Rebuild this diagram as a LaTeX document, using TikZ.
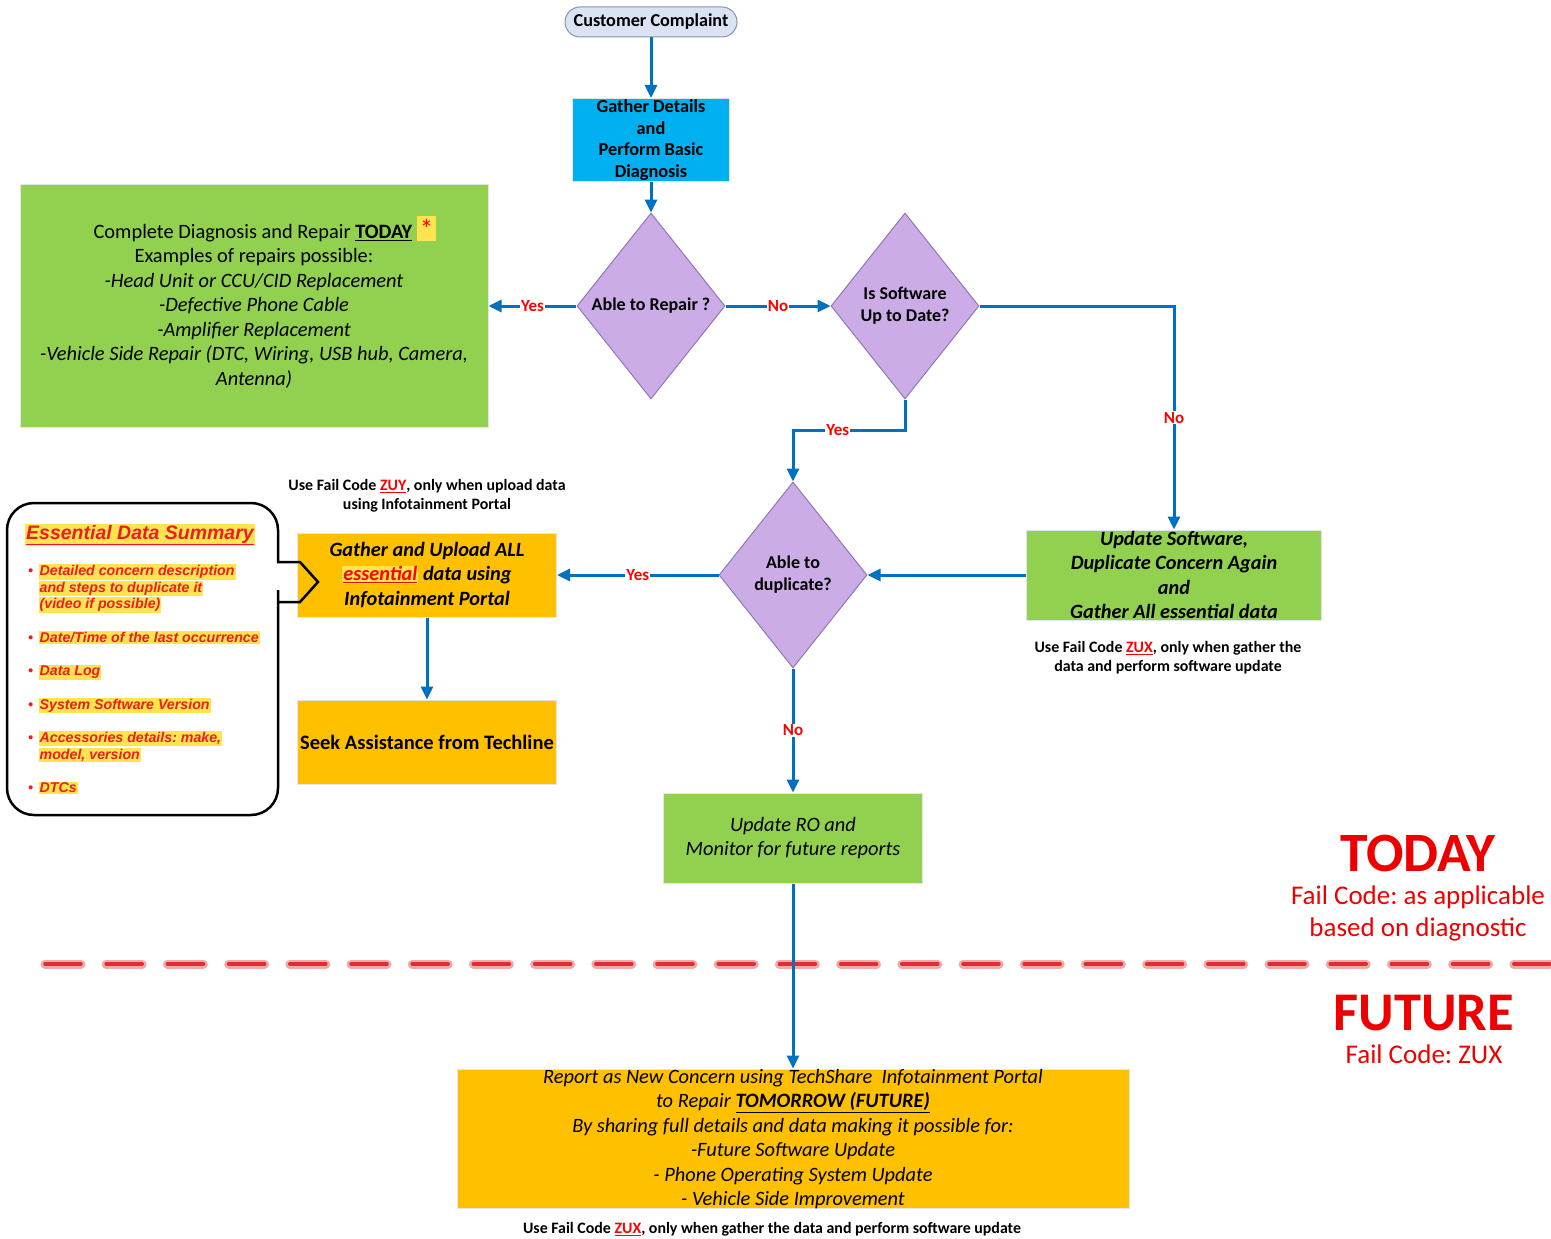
\documentclass[tikz,border=0pt]{standalone}
\usepackage{fontspec}
\setmainfont{Carlito}
\newfontfamily\summaryfont{Liberation Sans}
\usetikzlibrary{shapes.geometric,arrows.meta}
\frenchspacing

\definecolor{arrowblue}{RGB}{0,112,192}
\definecolor{labelred}{RGB}{255,0,0}
\definecolor{startfill}{RGB}{218,227,243}
\definecolor{startedge}{RGB}{132,151,176}
\definecolor{boxblue}{RGB}{0,176,240}
\definecolor{boxgreen}{RGB}{146,208,80}
\definecolor{boxorange}{RGB}{255,192,0}
\definecolor{diamondfill}{RGB}{204,172,230}
\definecolor{diamondedge}{RGB}{140,120,180}
\definecolor{hlyellow}{RGB}{255,228,80}
\definecolor{summaryred}{RGB}{235,30,35}
\definecolor{todayred}{RGB}{238,0,0}
\definecolor{dashred}{RGB}{225,45,50}
\definecolor{dashglow}{RGB}{240,170,170}

\newcommand{\hl}[1]{{\setlength{\fboxsep}{1pt}\colorbox{hlyellow}{#1}}}
\newcommand{\failcode}[1]{\textcolor{labelred}{\underline{#1}}}

\begin{document}
\begin{tikzpicture}[x=1pt,y=-1pt,node distance=100pt,
    flow/.style={draw=arrowblue,line width=3pt,-{Triangle[length=13pt,width=12pt]}},
    answer/.style={fill=white,text=labelred,inner sep=1pt,font=\fontsize{17}{20}\selectfont\bfseries},
    box/.style={draw=black!10,line width=1pt,align=center,inner sep=0pt},
    decision/.style={diamond,draw=diamondedge,fill=diamondfill,line width=1pt,align=center,inner sep=0pt,
      minimum width=148pt,minimum height=186pt,font=\fontsize{18}{22}\selectfont\bfseries},
    note/.style={align=center,font=\fontsize{15.9}{19}\selectfont\bfseries},
    bodyfont/.style={font=\fontsize{20.4}{24.5}\selectfont},
    boldbody/.style={font=\fontsize{20.3}{24.3}\selectfont\bfseries\itshape}]

    \useasboundingbox (0,0) rectangle (1551,1239);

    %% today / future split
    \draw[line width=9pt,dashglow,line cap=round,dash pattern=on 36pt off 25.2pt] (45,964) -- (1570,964);
    \draw[line width=3.5pt,dashred,line cap=round,dash pattern=on 36pt off 25.2pt] (45,964) -- (1570,964);

    \node[box,fill=startfill,draw=startedge,rounded corners=15pt,minimum width=172pt,minimum height=30pt,
      font=\fontsize{18.2}{20}\selectfont\bfseries] (1) at (651,22) {Customer Complaint};
    \node[box,fill=boxblue,below of=1,yshift=-18pt,minimum width=157pt,minimum height=83pt,
      font=\fontsize{18.3}{21.7}\selectfont\bfseries] (2) {Gather Details\\and\\Perform Basic\\Diagnosis};
    \node[decision,below of=2,yshift=-66pt] (3) {Able to Repair ?};
    \node[box,bodyfont,fill=boxgreen,left of=3,xshift=-297pt,minimum width=468pt,minimum height=243pt] (4)
      {\hspace*{22pt}Complete Diagnosis and Repair \textbf{\underline{TODAY}}
       \smash{\colorbox{hlyellow}{\textcolor{labelred}{\fontsize{27}{27}\selectfont *}}}\\
       Examples of repairs possible:\\
       \textit{-Head Unit or CCU/CID Replacement}\\
       \textit{-Defective Phone Cable}\\
       \textit{-Amplifier Replacement}\\
       \textit{-Vehicle Side Repair (DTC, Wiring, USB hub, Camera,}\\
       \textit{Antenna)}};
    \node[decision,right of=3,xshift=154pt] (5) {Is Software\\Up to Date?};
    \node[decision,below of=5,xshift=-112pt,yshift=-169pt] (6) {Able to\\duplicate?};
    \node[box,boldbody,fill=boxgreen,right of=6,xshift=281pt,minimum width=295pt,minimum height=90pt] (7)
      {Update Software,\\Duplicate Concern Again\\and\\Gather All essential data};
    \node[box,boldbody,fill=boxorange,left of=6,xshift=-266pt,minimum width=259pt,minimum height=84pt] (8)
      {Gather and Upload ALL\\\hl{\textcolor{labelred}{\underline{essential}}} data using\\Infotainment Portal};
    \node[box,fill=boxorange,below of=8,yshift=-67pt,minimum width=259pt,minimum height=84pt,
      font=\fontsize{20.5}{24}\selectfont\bfseries] (9) {Seek Assistance from Techline};
    \node[box,bodyfont,fill=boxgreen,below of=6,yshift=-163pt,minimum width=259pt,minimum height=90pt] (10)
      {\textit{Update RO and}\\\textit{Monitor for future reports}};
    \node[box,bodyfont,fill=boxorange,below of=10,yshift=-201pt,minimum width=672pt,minimum height=139pt] (11)
      {\textit{Report as New Concern using TechShare\ \ Infotainment Portal}\\
       \textit{to Repair \textbf{\underline{TOMORROW (FUTURE)}}}\\
       \textit{By sharing full details and data making it possible for:}\\
       \textit{-Future Software Update}\\
       \textit{- Phone Operating System Update}\\
       \textit{- Vehicle Side Improvement}};

    %% fail code notes
    \node[note,above of=8,yshift=-21pt] (12) {Use Fail Code \failcode{ZUY}, only when upload data\\using Infotainment Portal};
    \node[note,below of=7,xshift=-6pt,yshift=17pt] (13) {Use Fail Code \failcode{ZUX}, only when gather the\\data and perform software update};
    \node[note,below of=11,xshift=-21pt,yshift=10pt] (14) {Use Fail Code \failcode{ZUX}, only when gather the data and perform software update};

    %% essential data callout
    \draw[line width=2.5pt] (278,590) -- (278,602) -- (300,602) -- (318,582) -- (300,562) -- (278,562) -- (278,550)
      [rounded corners=27pt] -- (278,503) -- (7,503) -- (7,815) -- (278,815) -- (278,590);
    \node[text=summaryred,font=\summaryfont\fontsize{19.5}{22}\selectfont\bfseries\itshape] (15) at (140,535)
      {\hl{\underline{Essential Data Summary}}};
    \node[anchor=north west,inner sep=0pt,text=summaryred,font=\summaryfont\fontsize{14.2}{16.5}\selectfont\bfseries\itshape] (16) at (28,564)
      {\begin{tabular}{@{}l@{\hspace{5.5pt}}l@{}}
        \textbullet & \hl{Detailed concern description}\\
                    & \hl{and steps to duplicate it}\\
                    & \hl{(video if possible)}\\[17pt]
        \textbullet & \hl{Date/Time of the last occurrence}\\[17pt]
        \textbullet & \hl{Data Log}\\[17pt]
        \textbullet & \hl{System Software Version}\\[17pt]
        \textbullet & \hl{Accessories details: make,}\\
                    & \hl{model, version}\\[17pt]
        \textbullet & \hl{DTCs}
       \end{tabular}};

    %% today and future
    \node[inner sep=0pt,text=todayred,font=\fontsize{55.5}{60}\selectfont\bfseries] (17) at (1418,853) {TODAY};
    \node[inner sep=0pt,text=todayred,align=center,font=\fontsize{27}{32}\selectfont] (18) at (1418,913) {Fail Code: as applicable\\based on diagnostic};
    \node[inner sep=0pt,text=todayred,font=\fontsize{54.5}{60}\selectfont\bfseries] (19) at (1424,1013) {FUTURE};
    \node[inner sep=0pt,text=todayred,font=\fontsize{27}{32}\selectfont] (20) at (1424,1054) {Fail Code: ZUX};

    %% flow
    \draw[flow] (1) -- (2);
    \draw[flow] (2) -- (3);
    \draw[flow] (3) -- node[answer] {Yes} (4);
    \draw[flow] (3) -- node[answer] {No} (5);
    \draw[flow] (5.south) -- ++(0,31) -| node[answer,pos=0.3] {Yes} (6.north);
    \draw[flow] (5.east) -| node[answer,pos=0.75] {No} (7.north);
    \draw[flow] (7) -- (6);
    \draw[flow] (6) -- node[answer] {Yes} (8);
    \draw[flow] (8) -- (9);
    \draw[flow] (6) -- node[answer] {No} (10);
    \draw[flow] (10) -- (11);
  \end{tikzpicture}
\end{document}
